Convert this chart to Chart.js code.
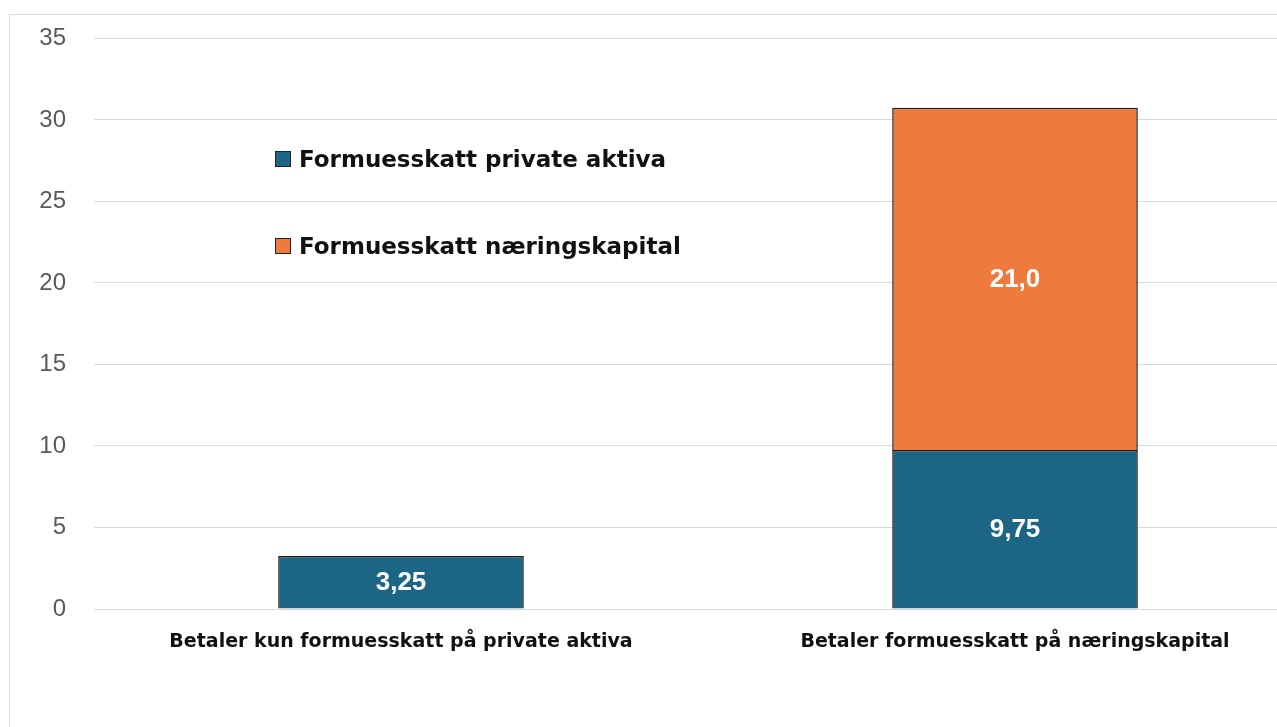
<!DOCTYPE html>
<html>
<head>
<meta charset="utf-8">
<script src="https://cdn.jsdelivr.net/npm/chart.js@4.4.1/dist/chart.umd.min.js"></script>
<style>
  html,body{margin:0;padding:0;background:#fff;overflow:hidden;width:1277px;height:727px}
  #box{position:absolute;left:9px;top:14px;width:1330px;height:740px;border:1px solid #d9d9d9;box-sizing:border-box}
  #wrap{position:absolute;left:0;top:-19px;width:1312px;height:719px}
  .leg{position:absolute;font-family:"DejaVu Sans",sans-serif;font-weight:700;font-size:23px;color:#111;white-space:nowrap;line-height:1}
  .leg i{display:inline-block;width:14px;height:14px;border:1.5px solid #222;margin-right:8px;vertical-align:0px}
</style>
</head>
<body>
<div id="box">
  <div id="wrap"><canvas id="c"></canvas></div>
  <div class="leg" id="leg1" style="left:265px;top:133px"><i style="background:#1d6584"></i>Formuesskatt private aktiva</div>
  <div class="leg" id="leg2" style="left:265px;top:220px"><i style="background:#ee7a3e"></i>Formuesskatt næringskapital</div>
</div>
<script>
const categories = ['Betaler kun formuesskatt på private aktiva', 'Betaler formuesskatt på næringskapital'];
const seriesNames = ['Formuesskatt private aktiva', 'Formuesskatt næringskapital'];
const privateVals = [3.25, 9.75];
const naeringVals = [null, 21.0];
const valueLabels = [['3,25', '9,75'], [null, '21,0']];
const yTicks = [0, 5, 10, 15, 20, 25, 30, 35];

const barLabels = {
  id: 'barLabels',
  afterDatasetsDraw(chart){
    const ctx = chart.ctx;
    ctx.save();
    ctx.fillStyle = '#fff';
    ctx.font = 'bold 26px "Liberation Sans", Arial, sans-serif';
    ctx.textAlign = 'center';
    ctx.textBaseline = 'middle';
    chart.data.datasets.forEach((ds, di)=>{
      chart.getDatasetMeta(di).data.forEach((bar, i)=>{
        const t = valueLabels[di][i];
        if(!t) return;
        ctx.fillText(t, bar.x, (bar.y + bar.base)/2 + 1);
      });
    });
    ctx.restore();
  }
};

new Chart(document.getElementById('c'), {
  type: 'bar',
  data: {
    labels: categories,
    datasets: [
      {label: seriesNames[0], data: privateVals, backgroundColor: '#1d6584', borderColor: '#1a1a1a', borderWidth: 1.5, barPercentage: 0.4, categoryPercentage: 1},
      {label: seriesNames[1], data: naeringVals, backgroundColor: '#ee7a3e', borderColor: '#1a1a1a', borderWidth: 1.5, barPercentage: 0.4, categoryPercentage: 1}
    ]
  },
  options: {
    responsive: true,
    maintainAspectRatio: false,
    animation: false,
    layout: {padding: {top: 3, left: 0, right: 0, bottom: 0}},
    plugins: {legend: {display: false}, tooltip: {enabled: false}},
    scales: {
      x: {
        stacked: true,
        grid: {display: false, drawTicks: false},
        border: {display: false},
        ticks: {color: '#111', padding: 22, maxRotation: 0, font: {family: '"DejaVu Sans", sans-serif', weight: '700', size: 19}},
        afterFit(s){ s.height = 106; }
      },
      y: {
        stacked: true,
        min: 0, max: 35,
        afterBuildTicks(s){ s.ticks = yTicks.map(v=>({value: v})); },
        grid: {color: '#d9d9d9', lineWidth: 1, drawTicks: false},
        border: {display: false},
        ticks: {color: '#595959', padding: 28, font: {family: '"Liberation Sans", Arial, sans-serif', size: 24}},
        afterFit(s){ s.width = 84; }
      }
    }
  },
  plugins: [barLabels]
});
</script>
</body>
</html>
